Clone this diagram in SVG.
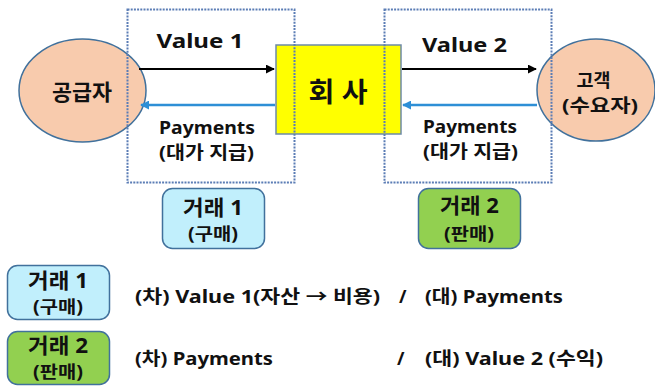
<svg xmlns="http://www.w3.org/2000/svg" width="655" height="387" viewBox="0 0 655 387">
  <style>
    text { font-family: "Noto Sans", "Noto Sans CJK KR", sans-serif; font-weight: bold; fill: #111; }
    .c { text-anchor: middle; }
    .party { fill: #f8cbad; stroke: #41719c; stroke-width: 1.5; }
    .deal { stroke: #41719c; stroke-width: 1.5; }
    .buy { fill: #c1effc; }
    .sell { fill: #92d050; }
    .zone { fill: none; stroke: #5b7db5; stroke-width: 2; stroke-dasharray: 2 1.2; }
    .flow { stroke: #000; stroke-width: 2; fill: none; }
    .pay { stroke: #2e8fd6; stroke-width: 2.5; fill: none; }
  </style>
  <defs>
    <marker id="headBlack" viewBox="0 0 10 10" refX="9" refY="5" markerWidth="4.5" markerHeight="4.5" orient="auto">
      <path d="M0,0 L10,5 L0,10 z" fill="#000"/>
    </marker>
    <marker id="headBlue" viewBox="0 0 10 10" refX="9" refY="5" markerWidth="3.6" markerHeight="3.6" orient="auto">
      <path d="M0,0 L10,5 L0,10 z" fill="#2e8fd6"/>
    </marker>
  </defs>

  <g id="supplier">
    <ellipse class="party" cx="82.5" cy="90.5" rx="63.5" ry="51.5"/>
    <text class="c" x="82" y="100" font-size="22" textLength="60" lengthAdjust="spacingAndGlyphs">공급자</text>
  </g>

  <g id="customer">
    <ellipse class="party" cx="596" cy="90" rx="59" ry="51"/>
    <text class="c" x="593.5" y="87" font-size="18" textLength="34" lengthAdjust="spacingAndGlyphs">고객</text>
    <text class="c" x="600" y="112" font-size="18" textLength="76" lengthAdjust="spacingAndGlyphs">(수요자)</text>
  </g>

  <g id="company">
    <rect x="276" y="45" width="125" height="89" fill="#ffff00" stroke="#6d8aa8" stroke-width="1.5"/>
    <text class="c" x="338" y="102" font-size="27" textLength="59" lengthAdjust="spacingAndGlyphs">회 사</text>
  </g>

  <g id="connectors">
    <line class="flow" x1="139" y1="69" x2="274" y2="69" marker-end="url(#headBlack)"/>
    <line class="pay" x1="275" y1="105" x2="141" y2="105" marker-end="url(#headBlue)"/>
    <line class="flow" x1="402" y1="69" x2="536" y2="69" marker-end="url(#headBlack)"/>
    <line class="pay" x1="537" y1="105" x2="403" y2="105" marker-end="url(#headBlue)"/>
  </g>

  <g id="zone-purchase">
    <rect class="zone" x="127.5" y="9.5" width="167" height="173"/>
    <text class="c" x="200" y="48" font-size="20" textLength="87" lengthAdjust="spacingAndGlyphs">Value 1</text>
    <text class="c" x="207" y="134" font-size="17" textLength="96" lengthAdjust="spacingAndGlyphs">Payments</text>
    <text class="c" x="206.5" y="159" font-size="18" textLength="95" lengthAdjust="spacingAndGlyphs">(대가 지급)</text>
  </g>

  <g id="zone-sale">
    <rect class="zone" x="384.5" y="9.5" width="167" height="173"/>
    <text class="c" x="464.5" y="52" font-size="20" textLength="85" lengthAdjust="spacingAndGlyphs">Value 2</text>
    <text class="c" x="470" y="133" font-size="17" textLength="94" lengthAdjust="spacingAndGlyphs">Payments</text>
    <text class="c" x="470.5" y="158" font-size="18" textLength="95" lengthAdjust="spacingAndGlyphs">(대가 지급)</text>
  </g>

  <g id="deal-purchase">
    <rect class="deal buy" x="162.5" y="188.5" width="102" height="60" rx="10"/>
    <text class="c" x="213" y="215" font-size="21" textLength="60" lengthAdjust="spacingAndGlyphs">거래 1</text>
    <text class="c" x="213" y="240" font-size="17" textLength="50" lengthAdjust="spacingAndGlyphs">(구매)</text>
  </g>

  <g id="deal-sale">
    <rect class="deal sell" x="418.5" y="188.5" width="102" height="60" rx="10"/>
    <text class="c" x="469.5" y="213" font-size="21" textLength="59" lengthAdjust="spacingAndGlyphs">거래 2</text>
    <text class="c" x="469" y="240" font-size="17" textLength="50" lengthAdjust="spacingAndGlyphs">(판매)</text>
  </g>

  <g id="legend-purchase">
    <rect class="deal buy" x="7.5" y="265.5" width="102" height="54" rx="10"/>
    <text class="c" x="58" y="288" font-size="21" textLength="60" lengthAdjust="spacingAndGlyphs">거래 1</text>
    <text class="c" x="58" y="313" font-size="17" textLength="50" lengthAdjust="spacingAndGlyphs">(구매)</text>
    <text x="135" y="303" font-size="18" textLength="245" lengthAdjust="spacingAndGlyphs">(차) Value 1(자산 → 비용)</text>
    <text x="399" y="303" font-size="18">/</text>
    <text x="425" y="303" font-size="18" textLength="138" lengthAdjust="spacingAndGlyphs">(대) Payments</text>
  </g>

  <g id="legend-sale">
    <rect class="deal sell" x="7.5" y="331.5" width="102" height="53" rx="10"/>
    <text class="c" x="58" y="353" font-size="21" textLength="60" lengthAdjust="spacingAndGlyphs">거래 2</text>
    <text class="c" x="58" y="378" font-size="17" textLength="50" lengthAdjust="spacingAndGlyphs">(판매)</text>
    <text x="135" y="365" font-size="18" textLength="138" lengthAdjust="spacingAndGlyphs">(차) Payments</text>
    <text x="397" y="365" font-size="18">/</text>
    <text x="425" y="365" font-size="18" textLength="178" lengthAdjust="spacingAndGlyphs">(대) Value 2 (수익)</text>
  </g>
</svg>
